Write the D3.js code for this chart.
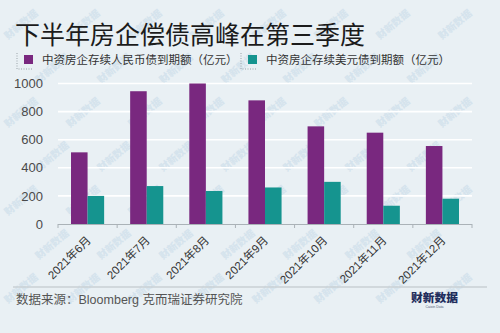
<!DOCTYPE html>
<html>
<head>
<meta charset="utf-8">
<script src="https://cdn.jsdelivr.net/npm/d3@7"></script>
<style>
  html, body { margin: 0; padding: 0; background: #e9f0f4; }
  svg { display: block; }
  text { font-family: "Liberation Sans", Arial, "Noto Sans CJK SC", sans-serif; }
</style>
</head>
<body>
<svg id="chart" width="500" height="333"></svg>
<script>
// Maturing bonds of Chinese developers, Jun–Dec 2021 (100m yuan)
const months = ["2021年6月", "2021年7月", "2021年8月", "2021年9月", "2021年10月", "2021年11月", "2021年12月"];
const rmbBonds = [510, 945, 1000, 880, 695, 650, 555];
const usdBonds = [200, 270, 235, 260, 300, 130, 180];
const seriesNames = ["中资房企存续人民币债到期额（亿元）", "中资房企存续美元债到期额（亿元）"];
const yTicks = [0, 200, 400, 600, 800, 1000];

const colors = ["#79287f", "#15948f"];
const W = 500, H = 333;
const svg = d3.select("#chart");

svg.append("rect").attr("width", W).attr("height", H).attr("fill", "#e9f0f4");

// Faint repeated watermark, kept inside the canvas
const wm = svg.append("g").attr("pointer-events", "none");
for (let r = 0; r < 7; r++) {
  for (let c = 0; c < 8; c++) {
    const wx = c * 62 + (r % 2) * 31 + 8;
    const wy = r * 44 + 40;
    if (wx + 36 > W || wy > H - 4) continue;
    wm.append("text")
      .attr("transform", `translate(${wx},${wy}) rotate(-40)`)
      .attr("font-family", "'Noto Sans CJK SC', sans-serif")
      .attr("font-size", 10).attr("font-weight", 900)
      .attr("fill", "#a9c8de").attr("opacity", 0.3)
      .text("财新数据");
  }
}

// Title
svg.append("text")
  .attr("x", 15).attr("y", 44)
  .attr("font-size", 25).attr("fill", "#1b1b1b")
  .text("下半年房企偿债高峰在第三季度");

// Legend
const legendX = [17, 241];
seriesNames.forEach((name, i) => {
  const g = svg.append("g").attr("transform", `translate(${legendX[i]},0)`);
  g.append("path")
    .attr("d", "M0,53 V69 H16")
    .attr("fill", "none").attr("stroke", "#9aa3a8")
    .attr("stroke-width", 1).attr("stroke-dasharray", "1,1.5");
  g.append("rect").attr("x", 7).attr("y", 55).attr("width", 9).attr("height", 9)
    .attr("fill", colors[i]);
  g.append("text")
    .attr("x", 25).attr("y", 64)
    .attr("font-size", 11.5).attr("fill", "#333")
    .text(name);
});

// Scales
const x0 = d3.scaleBand().domain(months).range([58, 472]).paddingInner(0).paddingOuter(0);
const x1 = d3.scaleBand().domain([0, 1])
  .range([x0.bandwidth() * 0.22, x0.bandwidth() * 0.78]);
const y = d3.scaleLinear().domain([0, 1000]).range([224, 83.5]);

// Gridlines
svg.append("g")
  .selectAll("line")
  .data(yTicks.filter(d => d > 0))
  .join("line")
  .attr("x1", 58).attr("x2", 472)
  .attr("y1", d => y(d)).attr("y2", d => y(d))
  .attr("stroke", "#ffffff").attr("stroke-width", 1.6);

// Y axis labels
const yAxis = d3.axisLeft(y).tickValues(yTicks).tickFormat(d3.format("d")).tickSize(0).tickPadding(0);
const yG = svg.append("g").attr("transform", "translate(43,0)").call(yAxis);
yG.select(".domain").remove();
yG.selectAll("text")
  .attr("font-size", 13).attr("fill", "#4a4a4a")
  .attr("font-family", "'Liberation Sans', Arial, sans-serif");

// Bars
const rows = months.map((m, i) => ({ month: m, values: [rmbBonds[i], usdBonds[i]] }));
svg.append("g")
  .selectAll("g")
  .data(rows)
  .join("g")
  .attr("transform", d => `translate(${x0(d.month)},0)`)
  .selectAll("rect")
  .data(d => d.values.map((v, k) => ({ k, v })))
  .join("rect")
  .attr("x", d => x1(d.k))
  .attr("width", x1.bandwidth())
  .attr("y", d => y(d.v))
  .attr("height", d => y(0) - y(d.v))
  .attr("fill", d => colors[d.k]);

// X axis baseline with boundary ticks
const axisG = svg.append("g");
axisG.append("line")
  .attr("x1", 58).attr("x2", 472).attr("y1", y(0) + 0.5).attr("y2", y(0) + 0.5)
  .attr("stroke", "#aab2b7").attr("stroke-width", 1.2);
const bounds = months.map(m => x0(m)).concat([x0.range()[1]]);
axisG.selectAll("line.tick")
  .data(bounds)
  .join("line").attr("class", "tick")
  .attr("x1", d => d).attr("x2", d => d)
  .attr("y1", y(0)).attr("y2", y(0) + 4)
  .attr("stroke", "#aab2b7").attr("stroke-width", 1);

// Rotated month labels
svg.append("g")
  .selectAll("text")
  .data(months)
  .join("text")
  .attr("transform", d => `translate(${x0(d) + x0.bandwidth() / 2 + 4},241) rotate(-45)`)
  .attr("text-anchor", "end")
  .attr("font-size", 11.5).attr("fill", "#333")
  .text(d => d);

// Footer separator and source
svg.append("line")
  .attr("x1", 13).attr("x2", 487).attr("y1", 287).attr("y2", 287)
  .attr("stroke", "#c8d0d5").attr("stroke-width", 1.6);
svg.append("text")
  .attr("x", 16).attr("y", 304)
  .attr("font-size", 12.5).attr("fill", "#555")
  .text("数据来源：Bloomberg 克而瑞证券研究院");

// Logo
svg.append("text")
  .attr("x", 411).attr("y", 302)
  .attr("font-family", "'Noto Sans CJK SC', sans-serif")
  .attr("font-size", 11.8).attr("font-weight", 900).attr("fill", "#1f2d5c")
  .attr("textLength", 47).attr("lengthAdjust", "spacingAndGlyphs")
  .text("财新数据");
svg.append("text")
  .attr("x", 434.5).attr("y", 307.5).attr("text-anchor", "middle")
  .attr("font-size", 3.5).attr("fill", "#55607a")
  .text("Caixin Data");
</script>
</body>
</html>
